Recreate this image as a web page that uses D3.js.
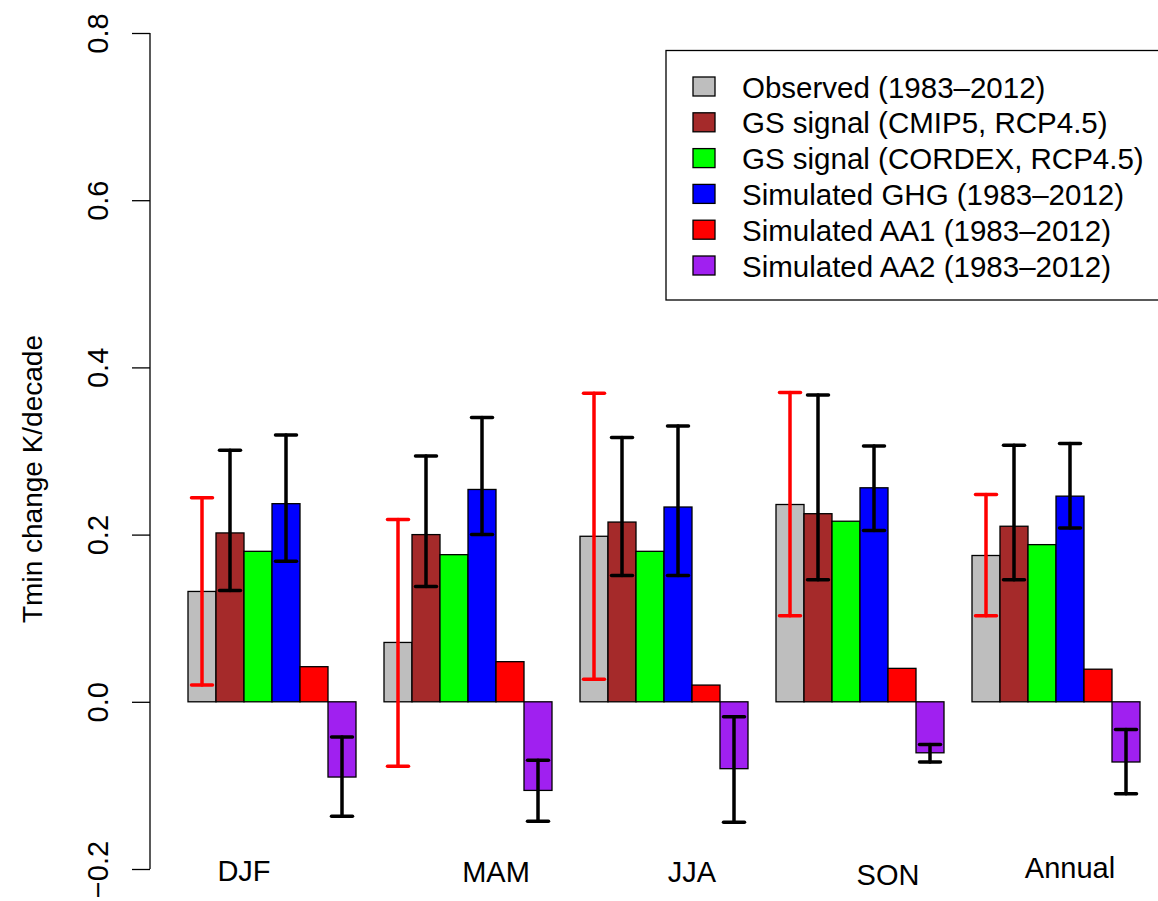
<!DOCTYPE html>
<html>
<head>
<meta charset="utf-8">
<script src="https://cdn.jsdelivr.net/npm/d3@7"></script>
<style>
  body { margin: 0; background: #fff; }
  svg { display: block; font-family: "Liberation Sans", Arial, Helvetica, sans-serif; }
</style>
</head>
<body>
<div id="chart"></div>
<script>
// seasons and legend entries
const seasons = ["DJF", "MAM", "JJA", "SON", "Annual"];
const labelPos = [3, 12, 19, 26, 32.5];      // bar units, like axis(at=...) in R
const labelNudge = [0, 1, 1, 4, -3];         // small vertical shifts of the labels
const seriesNames = [
  "Observed (1983\u20132012)",
  "GS signal (CMIP5, RCP4.5)",
  "GS signal (CORDEX, RCP4.5)",
  "Simulated GHG (1983\u20132012)",
  "Simulated AA1 (1983\u20132012)",
  "Simulated AA2 (1983\u20132012)"
];
const colors = ["#BEBEBE", "#A52A2A", "#00FF00", "#0000FF", "#FF0000", "#A020F0"];

// bar heights per series, one value per season
const observed = [0.132, 0.071, 0.198, 0.236, 0.175];
const gsCmip5  = [0.202, 0.200, 0.215, 0.225, 0.210];
const gsCordex = [0.180, 0.176, 0.180, 0.216, 0.188];
const simGHG   = [0.237, 0.254, 0.233, 0.256, 0.246];
const simAA1   = [0.042, 0.048, 0.020, 0.040, 0.039];
const simAA2   = [-0.090, -0.106, -0.080, -0.061, -0.072];

// error bar ranges [low, high] (none for CORDEX and AA1)
const obsErr   = [[0.020, 0.244], [-0.077, 0.218], [0.027, 0.369], [0.103, 0.370], [0.103, 0.248]];
const cmip5Err = [[0.133, 0.301], [0.138, 0.294], [0.151, 0.316], [0.146, 0.367], [0.146, 0.307]];
const ghgErr   = [[0.168, 0.319], [0.200, 0.340], [0.151, 0.330], [0.205, 0.306], [0.208, 0.309]];
const aa2Err   = [[-0.137, -0.042], [-0.143, -0.070], [-0.144, -0.018], [-0.072, -0.051], [-0.110, -0.033]];

const yTicks = [-0.2, 0.0, 0.2, 0.4, 0.6, 0.8];

const series = [observed, gsCmip5, gsCordex, simGHG, simAA1, simAA2];
const errors = [
  { s: 0, vals: obsErr, color: "#FF0000" },
  { s: 1, vals: cmip5Err, color: "#000000" },
  { s: 3, vals: ghgErr, color: "#000000" },
  { s: 5, vals: aa2Err, color: "#000000" }
];

const width = 1158, height = 901;
const svg = d3.select("#chart").append("svg")
  .attr("width", width)
  .attr("height", height);

// x in bar units: each group has 6 bars and one bar of space before it
const x = d3.scaleLinear().domain([0, 35]).range([160, 1140]);
const barW = x(1) - x(0);
const y = d3.scaleLinear().domain([-0.2, 0.8]).range([869, 33]);

const barStart = (g, s) => 1 + g * 7 + s;

// flatten to bars
const bars = [];
series.forEach((vals, s) => {
  vals.forEach((v, g) => bars.push({ g, s, v }));
});

svg.append("g").selectAll("rect")
  .data(bars)
  .enter()
  .append("rect")
  .attr("x", d => x(barStart(d.g, d.s)))
  .attr("y", d => y(Math.max(0, d.v)))
  .attr("width", barW)
  .attr("height", d => Math.abs(y(d.v) - y(0)))
  .attr("fill", d => colors[d.s])
  .attr("stroke", "#000")
  .attr("stroke-width", 1.3);

// error bars
const errData = [];
errors.forEach(e => {
  e.vals.forEach((r, g) => errData.push({ g, s: e.s, lo: r[0], hi: r[1], color: e.color }));
});
const capHalf = 10.5;
const eg = svg.append("g")
  .attr("stroke-width", 3.5)
  .attr("stroke-linecap", "round");
const ebar = eg.selectAll("g")
  .data(errData)
  .enter()
  .append("g")
  .attr("stroke", d => d.color);
ebar.append("line")
  .attr("x1", d => x(barStart(d.g, d.s) + 0.5))
  .attr("x2", d => x(barStart(d.g, d.s) + 0.5))
  .attr("y1", d => y(d.lo))
  .attr("y2", d => y(d.hi));
ebar.append("line")
  .attr("x1", d => x(barStart(d.g, d.s) + 0.5) - capHalf)
  .attr("x2", d => x(barStart(d.g, d.s) + 0.5) + capHalf)
  .attr("y1", d => y(d.lo))
  .attr("y2", d => y(d.lo));
ebar.append("line")
  .attr("x1", d => x(barStart(d.g, d.s) + 0.5) - capHalf)
  .attr("x2", d => x(barStart(d.g, d.s) + 0.5) + capHalf)
  .attr("y1", d => y(d.hi))
  .attr("y2", d => y(d.hi));

// Y axis, R style
const yAxis = svg.append("g")
  .attr("transform", "translate(150,0)")
  .call(d3.axisLeft(y).tickValues(yTicks).tickSize(18).tickPadding(0).tickFormat(d3.format(".1f")));
yAxis.select(".domain").attr("stroke-width", 1.3).attr("d", `M0,${y(-0.2)}V${y(0.8)}`);
yAxis.selectAll(".tick line").attr("stroke-width", 1.3);
yAxis.selectAll(".tick text")
  .attr("font-size", 29)
  .attr("fill", "#000")
  .attr("text-anchor", "middle")
  .attr("x", null)
  .attr("dy", null)
  .attr("transform", "translate(-42,0) rotate(-90)");
yAxis.selectAll(".tick text").text(d => d3.format(".1f")(d).replace("-", "\u2212"));

// Y axis title
svg.append("text")
  .attr("transform", "translate(42,479) rotate(-90)")
  .attr("text-anchor", "middle")
  .attr("font-size", 28)
  .text("Tmin change K/decade");

// season labels
svg.append("g").selectAll("text")
  .data(seasons)
  .enter()
  .append("text")
  .attr("x", (d, i) => x(labelPos[i]))
  .attr("y", (d, i) => 881 + labelNudge[i])
  .attr("text-anchor", "middle")
  .attr("font-size", 29)
  .text(d => d);

// legend
const legend = svg.append("g");
legend.append("rect")
  .attr("x", 666)
  .attr("y", 50.5)
  .attr("width", 520)
  .attr("height", 249.5)
  .attr("fill", "#fff")
  .attr("stroke", "#000")
  .attr("stroke-width", 1.3);
const rowY = d3.scalePoint().domain(d3.range(seriesNames.length)).range([87, 266]);
const item = legend.selectAll("g.item")
  .data(seriesNames)
  .enter()
  .append("g")
  .attr("class", "item")
  .attr("transform", (d, i) => `translate(0,${rowY(i)})`);
item.append("rect")
  .attr("x", 693)
  .attr("y", -10)
  .attr("width", 22)
  .attr("height", 19)
  .attr("fill", (d, i) => colors[i])
  .attr("stroke", "#000")
  .attr("stroke-width", 1.3);
item.append("text")
  .attr("x", 742)
  .attr("y", 10.5)
  .attr("font-size", 29.5)
  .text(d => d);
</script>
</body>
</html>
